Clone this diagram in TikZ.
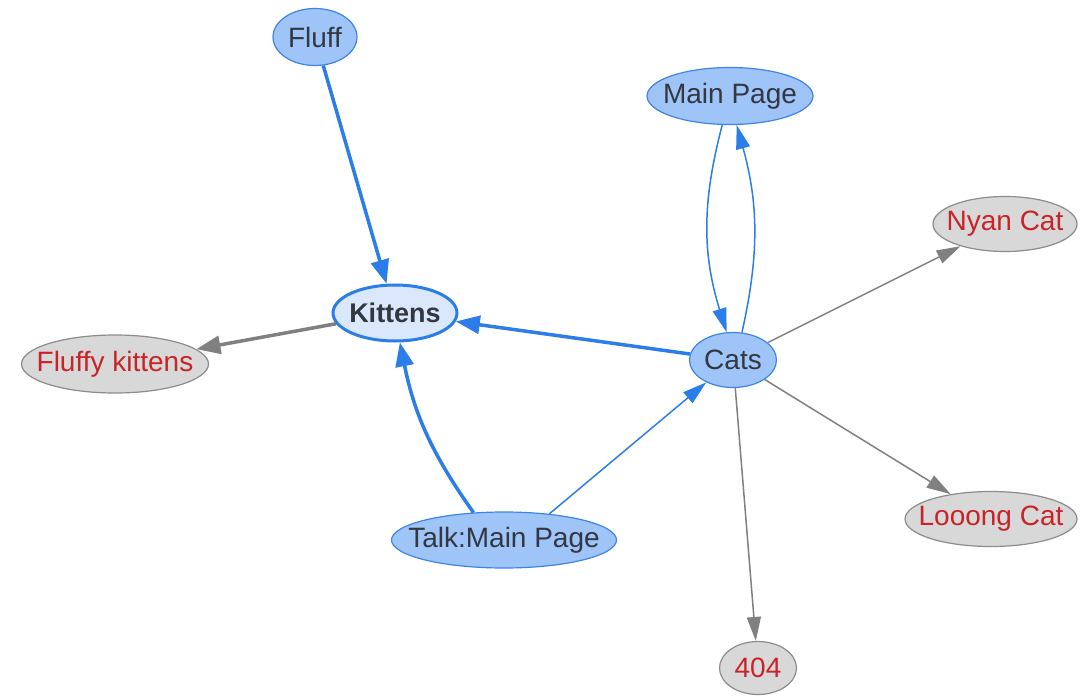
\documentclass[tikz,border=0pt]{standalone}
\usepackage{fontspec}
\setmainfont{Liberation Sans}
\usetikzlibrary{shapes.geometric,arrows.meta}
\definecolor{pagefill}{RGB}{158,196,248}
\definecolor{pageline}{RGB}{60,132,232}
\definecolor{linkblue}{RGB}{43,125,233}
\definecolor{focusfill}{RGB}{219,232,252}
\definecolor{missfill}{RGB}{216,216,216}
\definecolor{missline}{RGB}{140,140,140}
\definecolor{linkgray}{RGB}{128,128,128}
\definecolor{misstext}{RGB}{200,36,40}
\definecolor{pagetext}{RGB}{50,55,65}
\tikzset{
  bubble/.style={ellipse, inner xsep=-20pt, inner ysep=-10pt, font=\fontsize{28}{30}\selectfont},
  pg/.style={bubble, fill=pagefill, draw=pageline, line width=1.2pt, text=pagetext},
  focus/.style={pg, fill=focusfill, draw=linkblue, line width=3pt, font=\fontsize{27}{30}\selectfont\bfseries},
  miss/.style={bubble, fill=missfill, draw=missline, line width=1.2pt, text=misstext},
  strong/.style={draw=linkblue, line width=3.5pt, -{Triangle[length=24pt,width=18pt]}},
  weak/.style={draw=linkblue, line width=1.5pt, -{Triangle[length=24pt,width=14pt]}},
  graystrong/.style={draw=linkgray, line width=3.5pt, -{Triangle[length=24pt,width=18pt]}},
  grayweak/.style={draw=linkgray, line width=1.5pt, -{Triangle[length=24pt,width=14pt]}},
}
\begin{document}
\begin{tikzpicture}[x=1pt,y=1pt]
\useasboundingbox (0,0) rectangle (1081,-698);
% pages
\node[pg, minimum width=84pt, minimum height=57pt] (fluff) at (315,-37) {Fluff};
\node[pg, minimum width=166pt, minimum height=57pt] (main) at (730,-96) {Main Page};
\node[focus, minimum width=124pt, minimum height=56pt] (kit) at (395,-313) {Kittens};
\node[pg, minimum width=87pt, minimum height=55pt] (cats) at (733,-360) {Cats};
\node[pg, minimum width=225pt, minimum height=56pt] (talk) at (504,-540) {Talk:Main Page};
% missing pages
\node[miss, minimum width=144pt, minimum height=55pt] (nyan) at (1005,-224) {Nyan Cat};
\node[miss, minimum width=187pt, minimum height=58pt] (fk) at (115,-364) {Fluffy kittens};
\node[miss, minimum width=172pt, minimum height=55pt] (long) at (991,-519) {Looong Cat};
\node[miss, minimum width=77pt, minimum height=53pt] (nf) at (758,-668) {404};
% links
\draw[strong] (fluff) -- (kit);
\draw[strong] (cats) -- (kit);
\draw[strong] (talk.138) to[bend left=12] (kit);
\draw[weak] (talk.30) -- (cats);
\draw[weak] (main.255) to[bend right=16] (cats.103);
\draw[weak] (cats.72) to[bend right=14] (main.283);
\draw[graystrong] (kit) -- (fk);
\draw[grayweak] (cats) -- (nyan);
\draw[grayweak] (cats) -- (long);
\draw[grayweak] (cats) -- (nf);
\end{tikzpicture}
\end{document}
